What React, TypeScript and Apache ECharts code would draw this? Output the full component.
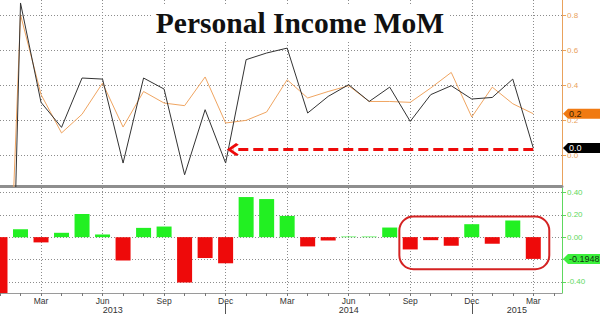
import React, { useEffect, useRef } from 'react';
import * as echarts from 'echarts';

// ---------- data ----------
const months = [
  'Jan 2013', 'Feb 2013', 'Mar 2013', 'Apr 2013', 'May 2013', 'Jun 2013',
  'Jul 2013', 'Aug 2013', 'Sep 2013', 'Oct 2013', 'Nov 2013', 'Dec 2013',
  'Jan 2014', 'Feb 2014', 'Mar 2014', 'Apr 2014', 'May 2014', 'Jun 2014',
  'Jul 2014', 'Aug 2014', 'Sep 2014', 'Oct 2014', 'Nov 2014', 'Dec 2014',
  'Jan 2015', 'Feb 2015', 'Mar 2015',
];

// Personal income MoM, actual (black line)
const actualMoM = [
  -3.7, 0.873, 0.305, 0.162, 0.444, 0.438, -0.042, 0.444, 0.381, -0.109, 0.263, -0.042,
  0.549, 0.587, 0.615, 0.244, 0.339, 0.406, 0.31, 0.392, 0.196, 0.349, 0.4, 0.324,
  0.333, 0.438, 0.044,
];

// Survey / consensus (orange line)
const consensusMoM = [
  -2.2, 0.806, 0.35, 0.13, 0.237, 0.415, 0.164, 0.367, 0.301, 0.286, 0.45, 0.187,
  0.202, 0.25, 0.434, 0.33, 0.367, 0.4, 0.31, 0.31, 0.305, 0.387, 0.476, 0.221,
  0.392, 0.297, 0.24,
];

// Surprise bars (bottom panel)
const surpriseBars = [
  -1.5, 0.071, -0.047, 0.039, 0.207, 0.024, -0.21, 0.083, 0.095, -0.406, -0.187, -0.234,
  0.359, 0.341, 0.19, -0.083, -0.03, 0.005, 0.005, 0.086, -0.11, -0.027, -0.077, 0.116,
  -0.059, 0.148, -0.1948,
];

const topTicks = [0, 0.2, 0.4, 0.6, 0.8];
const bottomTicks = [-0.4, -0.2, 0, 0.2, 0.4];
const yearLabels = ['2013', '2014', '2015'];
const arrowLevel = 0.035;
const arrowFromMonth = 'Mar 2015';
const arrowToMonth = 'Dec 2013';
const boxFromMonth = 'Sep 2014';
const boxToMonth = 'Mar 2015';

// ---------- layout constants ----------
const X_MIN = 1;
const X_MAX = 28.4;
const yearLabelPos = [6.5, 18, 26.2];
const yearDividerPos = [12, 24];

const FONT = '"Liberation Sans", Arial, sans-serif';
const GRID_LINE = { color: '#8c8c8c', type: [1, 2] as any, width: 1 };
const ORANGE_AXIS = '#e9a25c';
const GREEN_AXIS = '#5ed85e';
const RED = '#ee0a0a';
const GREEN = '#22f022';

const pos = (m: string) => months.indexOf(m) + 1;

export default function App() {
  const ref = useRef<HTMLDivElement>(null);

  useEffect(() => {
    document.body.style.margin = '0';
    if (!ref.current) return;
    const chart = echarts.init(ref.current, null, { renderer: 'svg' });

    const lastOrange = consensusMoM[consensusMoM.length - 1];
    const lastBlack = actualMoM[actualMoM.length - 1];
    const lastBar = surpriseBars[surpriseBars.length - 1];

    const blackData = actualMoM.map((v, i) => [i + 1, v]);
    const orangeData = consensusMoM.map((v, i) => [i + 1, v]);
    const barData = surpriseBars.map((v, i) => ({
      value: [i + 1, v],
      itemStyle: { color: v >= 0 ? GREEN : RED },
    }));

    const quarterPos: number[] = [];
    months.forEach((m, i) => { if ((i + 1) % 3 === 0) quarterPos.push(i + 1); });
    const monthPos = months.map((_, i) => i + 1).concat([months.length + 1]);

    const option: any = {
      animation: false,
      title: {
        text: 'Personal Income MoM',
        left: 'center',
        top: 6,
        padding: [2, 4],
        backgroundColor: '#ffffff',
        z: 8,
        textStyle: {
          fontFamily: '"Liberation Serif", "Times New Roman", serif',
          fontWeight: 'bold',
          fontSize: 29.5,
          color: '#111111',
        },
      },
      grid: [
        { left: 0, right: 38, top: 0, height: 186.5 },
        { left: 0, right: 38, top: 188, height: 105 },
      ],
      xAxis: [
        {
          gridIndex: 0, type: 'value', min: X_MIN, max: X_MAX,
          position: 'bottom',
          axisLine: { show: true, onZero: false, lineStyle: { color: '#8e8e8e', width: 3 } },
          axisTick: { show: false, customValues: quarterPos }, axisLabel: { show: false },
          splitLine: { show: true, lineStyle: GRID_LINE },
        },
        {
          gridIndex: 1, type: 'value', min: X_MIN, max: X_MAX,
          position: 'bottom',
          axisLine: { show: true, onZero: false, lineStyle: { color: '#9a9a9a', width: 1 } },
          axisTick: { show: false, customValues: quarterPos },
          axisLabel: {
            show: true, customValues: quarterPos,
            fontSize: 8.5, fontFamily: FONT, color: '#333333', margin: 3,
            formatter: (v: number) => {
              const m = months[Math.round(v) - 1];
              return m ? m.split(' ')[0] : '';
            },
          },
          splitLine: { show: true, lineStyle: GRID_LINE },
        },
        {
          gridIndex: 1, type: 'value', min: X_MIN, max: X_MAX,
          position: 'bottom',
          axisLine: { show: false, onZero: false },
          axisTick: { show: true, customValues: monthPos, length: 3, lineStyle: { color: '#777777' } },
          axisLabel: { show: false }, splitLine: { show: false },
        },
        {
          gridIndex: 1, type: 'value', min: X_MIN, max: X_MAX,
          position: 'bottom', offset: 10,
          axisLine: { show: false, onZero: false },
          axisTick: { show: true, customValues: yearDividerPos, length: 12, lineStyle: { color: '#555555' } },
          axisLabel: {
            show: true, customValues: yearLabelPos, fontSize: 9, fontFamily: FONT,
            color: '#333333', margin: 2,
            formatter: (v: number) => {
              const i = yearLabelPos.findIndex((p) => Math.abs(p - v) < 1e-6);
              return i >= 0 ? yearLabels[i] : '';
            },
          },
          splitLine: { show: false },
        },
      ],
      yAxis: [
        {
          gridIndex: 0, type: 'value', position: 'right', min: -0.176, max: 0.89,
          axisLine: { show: true, onZero: false, lineStyle: { color: ORANGE_AXIS } },
          axisTick: { show: true, customValues: topTicks, length: 4, lineStyle: { color: ORANGE_AXIS } },
          axisLabel: {
            customValues: topTicks,
            color: ORANGE_AXIS, fontSize: 8, fontFamily: FONT, margin: 5,
            formatter: (v: number) => v.toFixed(1),
          },
          splitLine: { show: true, lineStyle: GRID_LINE },
        },
        {
          gridIndex: 1, type: 'value', position: 'right', min: -0.5, max: 0.44,
          axisLine: { show: true, onZero: false, lineStyle: { color: GREEN_AXIS } },
          axisTick: { show: true, customValues: bottomTicks, length: 4, lineStyle: { color: GREEN_AXIS } },
          axisLabel: {
            // the label hidden under the last-value tag is not drawn
            customValues: bottomTicks.filter((v) => Math.abs(v - lastBar) >= 0.05),
            color: GREEN_AXIS, fontSize: 8, fontFamily: FONT, margin: 5,
            formatter: (v: number) => v.toFixed(2),
          },
          splitLine: { show: true, lineStyle: GRID_LINE },
        },
      ],
      series: [
        {
          name: 'Survey', type: 'line', xAxisIndex: 0, yAxisIndex: 0,
          data: orangeData, symbol: 'none', clip: true,
          lineStyle: { color: '#f0a561', width: 1 },
        },
        {
          name: 'Actual', type: 'line', xAxisIndex: 0, yAxisIndex: 0,
          data: blackData, symbol: 'none', clip: true,
          lineStyle: { color: '#333333', width: 1 },
          markLine: {
            silent: true,
            symbol: ['none', 'path://M0,0 L12,10 L9,13 L0,5 L-9,13 L-12,10 Z'],
            symbolSize: [13, 12],
            label: { show: false },
            lineStyle: { color: RED, width: 3, type: [10, 5] },
            data: [[
              { coord: [pos(arrowFromMonth), arrowLevel] },
              { coord: [pos(arrowToMonth) + 0.35, arrowLevel] },
            ]],
          },
        },
        {
          name: 'Surprise', type: 'bar', xAxisIndex: 1, yAxisIndex: 1,
          data: barData, barWidth: 15, clip: true,
        },
      ],
    };

    chart.setOption(option);

    const pO = chart.convertToPixel({ xAxisIndex: 0, yAxisIndex: 0 }, [X_MAX, lastOrange]) as number[];
    const pB = chart.convertToPixel({ xAxisIndex: 0, yAxisIndex: 0 }, [X_MAX, lastBlack]) as number[];
    const pG = chart.convertToPixel({ xAxisIndex: 1, yAxisIndex: 1 }, [X_MAX, lastBar]) as number[];

    const tag = (p: number[], fill: string, color: string, text: string) => {
      const x0 = p[0] + 1;
      const y = p[1];
      return {
        type: 'group',
        z: 10,
        children: [
          {
            type: 'polygon',
            shape: { points: [[x0, y], [x0 + 5, y - 5], [600, y - 5], [600, y + 5], [x0 + 5, y + 5]] },
            style: { fill },
          },
          {
            type: 'text', x: x0 + 6, y,
            style: { text, fill: color, fontSize: 9, fontFamily: FONT, verticalAlign: 'middle', align: 'left' },
          },
        ],
      };
    };

    const b0 = chart.convertToPixel({ xAxisIndex: 1, yAxisIndex: 1 }, [pos(boxFromMonth) - 0.53, 0.185]) as number[];
    const b1 = chart.convertToPixel({ xAxisIndex: 1, yAxisIndex: 1 }, [pos(boxToMonth) + 0.78, -0.287]) as number[];

    chart.setOption({
      graphic: [
        {
          type: 'rect', silent: true, z: 10,
          shape: { x: b0[0], y: b0[1], width: b1[0] - b0[0], height: b1[1] - b0[1], r: 14 },
          style: { fill: 'none', stroke: '#d42222', lineWidth: 2 },
        },
        tag(pO, '#f07a12', '#3a2000', lastOrange.toFixed(1)),
        tag(pB, '#000000', '#ffffff', lastBlack.toFixed(1)),
        tag(pG, '#3cf03c', '#103010', lastBar.toFixed(4)),
      ],
    });

    return () => chart.dispose();
  }, []);

  return <div ref={ref} style={{ width: 600, height: 314, position: 'absolute', left: 0, top: 0 }} />;
}
